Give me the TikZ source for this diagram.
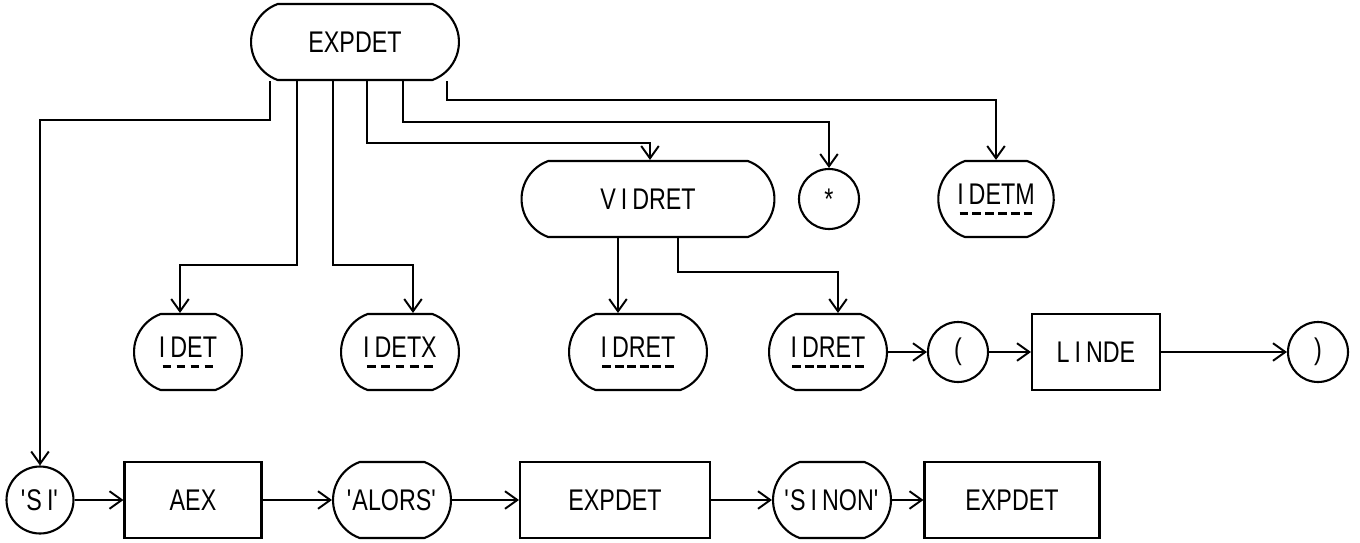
\documentclass[tikz,border=0pt]{standalone}
\usepackage{fontspec}
\setmainfont{Liberation Sans}[FakeStretch=0.78]
\usetikzlibrary{arrows.meta,shapes.misc}

\tikzset{
  box/.style={draw, line width=1.2pt, minimum height=1.52cm, inner sep=2pt},
  pill/.style={box, rounded rectangle, rounded rectangle arc length=140},
  ring/.style={draw, line width=1.2pt, circle, minimum size=1.2cm, inner sep=0pt},
  link/.style={line width=1.1pt, -{Straight Barb[length=7pt,width=10pt]}},
}
% dashed underline
\newsavebox{\idbox}
\newcommand{\idf}[1]{\sbox\idbox{#1}\rlap{\lower6pt\hbox to \wd\idbox{\xleaders\hbox to 7pt{\hss\vrule width 5pt height 1.4pt\hss}\hfil}}\usebox\idbox}
\newcommand{\qt}[1]{\textquotesingle#1\textquotesingle}

\begin{document}
\begin{tikzpicture}[x=0.02cm, y=-0.02cm, font=\fontsize{17}{19}\selectfont]
\useasboundingbox (0,0) rectangle (1360,542);

% first rows
\node[pill, minimum width=4.3cm] (top) at (355,42) {EXPDET};
\node[pill, minimum width=5.2cm] (vidret) at (648,199) {V\,I\,DRET};
\node[ring] (star) at (829,199) {*};
\node[pill, minimum width=2.45cm] (idetm) at (996,199) {\idf{I\,DETM}};

\node[pill, minimum width=2.3cm] (idet) at (188,352) {\idf{I\,DET}};
\node[pill, minimum width=2.5cm] (idetx) at (400,352) {\idf{I\,DETX}};
\node[pill, minimum width=2.9cm] (idreta) at (638,352) {\idf{I\,DRET}};
\node[pill, minimum width=2.5cm] (idretb) at (828,352) {\idf{I\,DRET}};
\node[ring] (lp) at (958,352) {(};
\node[box, minimum width=2.56cm] (linde) at (1096,352) {L\,I\,NDE};
\node[ring] (rp) at (1318,352) {)};

% last row
\node[ring, minimum size=1.34cm] (si) at (40,500) {\qt{S\,I}};
\node[box, minimum width=2.74cm] (aex) at (193,500) {AEX};
\node[pill, minimum width=2.5cm] (alors) at (392,500) {\qt{ALORS}};
\node[box, minimum width=3.8cm] (expa) at (615,500) {EXPDET};
\node[pill, minimum width=2.5cm] (sinon) at (832,500) {\qt{S\,I\,NON}};
\node[box, minimum width=3.5cm] (expb) at (1012,500) {EXPDET};

% branches
\draw[link] (270,0 |- top.south) -- (270,120) -| (si);
\draw[link] (297,0 |- top.south) -- (297,265) -| (180,0 |- idet.north);
\draw[link] (333,0 |- top.south) -- (333,265) -| (413,0 |- idetx.north);
\draw[link] (367,0 |- top.south) -- (367,143) -| (650,0 |- vidret.north);
\draw[link] (403,0 |- top.south) -- (403,122) -| (star);
\draw[link] (447,0 |- top.south) -- (447,100) -| (idetm);
\draw[link] (618,0 |- vidret.south) -- (618,0 |- idreta.north);
\draw[link] (678,0 |- vidret.south) -- (678,272) -| (838,0 |- idretb.north);

\foreach \a/\b in {idretb/lp, lp/linde, linde/rp, si/aex, aex/alors, alors/expa, expa/sinon, sinon/expb}
  \draw[link] (\a) -- (\b);

\end{tikzpicture}
\end{document}
